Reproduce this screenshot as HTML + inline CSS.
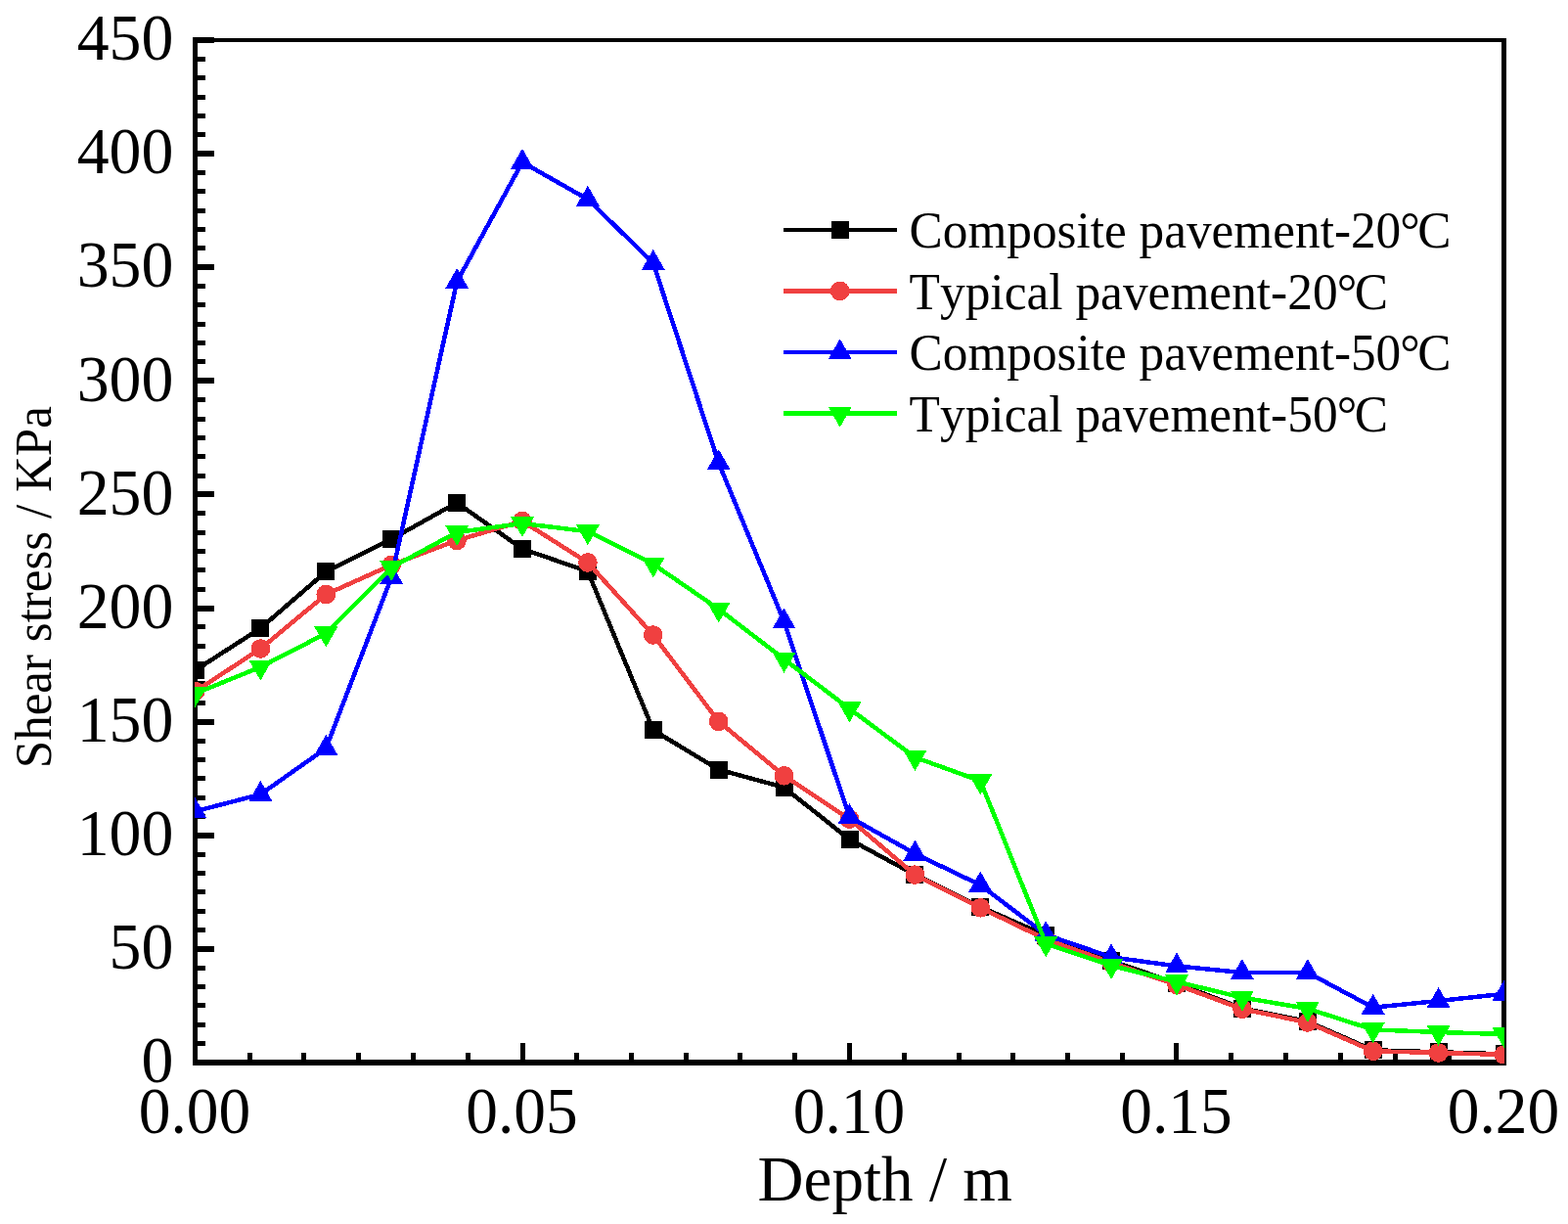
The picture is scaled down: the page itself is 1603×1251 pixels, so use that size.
<!DOCTYPE html>
<html lang="en">
<head>
<meta charset="utf-8">
<title>Shear stress versus depth</title>
<style>
html,body{margin:0;padding:0;background:#ffffff;}
body{width:1603px;height:1251px;overflow:hidden;}
svg{display:block;}
text{font-family:"Liberation Serif",serif;fill:#000000;font-kerning:none;}
.tick{font-size:68px;}
.leg{font-size:52.5px;}
.ytitle{font-size:52.5px;}
.xtitle{font-size:66px;}
</style>
</head>
<body>
<svg width="1603" height="1251" viewBox="0 0 1603 1251">
<rect x="0" y="0" width="1603" height="1251" fill="#ffffff"/>
<defs><clipPath id="plotclip"><rect x="199" y="39" width="1339" height="1048"/></clipPath></defs>
<g shape-rendering="crispEdges" fill="#000000">
<rect x="197" y="38" width="5" height="1051"/>
<rect x="1535" y="39" width="5" height="1050"/>
<rect x="197" y="39" width="1343" height="4"/>
<rect x="197" y="1083" width="1343" height="6"/>
<rect x="197" y="1083" width="22" height="6"/>
<rect x="197" y="1064" width="13" height="5"/>
<rect x="197" y="1045" width="13" height="5"/>
<rect x="197" y="1025" width="13" height="5"/>
<rect x="197" y="1006" width="13" height="5"/>
<rect x="197" y="987" width="13" height="5"/>
<rect x="197" y="967" width="22" height="6"/>
<rect x="197" y="948" width="13" height="5"/>
<rect x="197" y="929" width="13" height="5"/>
<rect x="197" y="909" width="13" height="5"/>
<rect x="197" y="890" width="13" height="5"/>
<rect x="197" y="871" width="13" height="5"/>
<rect x="197" y="851" width="22" height="6"/>
<rect x="197" y="832" width="13" height="5"/>
<rect x="197" y="813" width="13" height="5"/>
<rect x="197" y="793" width="13" height="5"/>
<rect x="197" y="774" width="13" height="5"/>
<rect x="197" y="755" width="13" height="5"/>
<rect x="197" y="735" width="22" height="6"/>
<rect x="197" y="716" width="13" height="5"/>
<rect x="197" y="696" width="13" height="5"/>
<rect x="197" y="677" width="13" height="5"/>
<rect x="197" y="658" width="13" height="5"/>
<rect x="197" y="638" width="13" height="5"/>
<rect x="197" y="619" width="22" height="6"/>
<rect x="197" y="600" width="13" height="5"/>
<rect x="197" y="580" width="13" height="5"/>
<rect x="197" y="561" width="13" height="5"/>
<rect x="197" y="542" width="13" height="5"/>
<rect x="197" y="522" width="13" height="5"/>
<rect x="197" y="502" width="22" height="6"/>
<rect x="197" y="484" width="13" height="5"/>
<rect x="197" y="464" width="13" height="5"/>
<rect x="197" y="445" width="13" height="5"/>
<rect x="197" y="426" width="13" height="5"/>
<rect x="197" y="406" width="13" height="5"/>
<rect x="197" y="386" width="22" height="6"/>
<rect x="197" y="367" width="13" height="5"/>
<rect x="197" y="348" width="13" height="5"/>
<rect x="197" y="329" width="13" height="5"/>
<rect x="197" y="309" width="13" height="5"/>
<rect x="197" y="290" width="13" height="5"/>
<rect x="197" y="270" width="22" height="6"/>
<rect x="197" y="251" width="13" height="5"/>
<rect x="197" y="232" width="13" height="5"/>
<rect x="197" y="213" width="13" height="5"/>
<rect x="197" y="193" width="13" height="5"/>
<rect x="197" y="174" width="13" height="5"/>
<rect x="197" y="154" width="22" height="6"/>
<rect x="197" y="135" width="13" height="5"/>
<rect x="197" y="116" width="13" height="5"/>
<rect x="197" y="97" width="13" height="5"/>
<rect x="197" y="77" width="13" height="5"/>
<rect x="197" y="58" width="13" height="5"/>
<rect x="197" y="38" width="22" height="6"/>
<rect x="197" y="1066" width="5" height="20"/>
<rect x="253" y="1076" width="5" height="10"/>
<rect x="308" y="1076" width="5" height="10"/>
<rect x="364" y="1076" width="5" height="10"/>
<rect x="420" y="1076" width="5" height="10"/>
<rect x="476" y="1076" width="5" height="10"/>
<rect x="532" y="1066" width="5" height="20"/>
<rect x="587" y="1076" width="5" height="10"/>
<rect x="643" y="1076" width="5" height="10"/>
<rect x="699" y="1076" width="5" height="10"/>
<rect x="754" y="1076" width="5" height="10"/>
<rect x="810" y="1076" width="5" height="10"/>
<rect x="866" y="1066" width="5" height="20"/>
<rect x="922" y="1076" width="5" height="10"/>
<rect x="978" y="1076" width="5" height="10"/>
<rect x="1033" y="1076" width="5" height="10"/>
<rect x="1089" y="1076" width="5" height="10"/>
<rect x="1145" y="1076" width="5" height="10"/>
<rect x="1200" y="1066" width="5" height="20"/>
<rect x="1256" y="1076" width="5" height="10"/>
<rect x="1312" y="1076" width="5" height="10"/>
<rect x="1368" y="1076" width="5" height="10"/>
<rect x="1424" y="1076" width="5" height="10"/>
<rect x="1479" y="1076" width="5" height="10"/>
<rect x="1535" y="1066" width="5" height="20"/>
</g>
<g clip-path="url(#plotclip)" shape-rendering="crispEdges">
<polyline points="199.5,685.2 266.4,642 333.3,584.3 400.2,551 467.1,513.8 534,561 600.9,584 667.8,746.2 734.7,786.6 801.6,804.8 868.5,858 935.4,894 1002.3,927 1069.2,956 1136.1,982 1203,1005 1269.9,1030.5 1336.8,1044 1403.7,1073.3 1470.6,1075.3 1537.5,1077.3" fill="none" stroke="#000000" stroke-width="4.5" stroke-linejoin="round"/>
<rect x="190.5" y="676.2" width="18" height="18" fill="#000000"/>
<rect x="257.4" y="633" width="18" height="18" fill="#000000"/>
<rect x="324.3" y="575.3" width="18" height="18" fill="#000000"/>
<rect x="391.2" y="542" width="18" height="18" fill="#000000"/>
<rect x="458.1" y="504.8" width="18" height="18" fill="#000000"/>
<rect x="525" y="552" width="18" height="18" fill="#000000"/>
<rect x="591.9" y="575" width="18" height="18" fill="#000000"/>
<rect x="658.8" y="737.2" width="18" height="18" fill="#000000"/>
<rect x="725.7" y="777.6" width="18" height="18" fill="#000000"/>
<rect x="792.6" y="795.8" width="18" height="18" fill="#000000"/>
<rect x="859.5" y="849" width="18" height="18" fill="#000000"/>
<rect x="926.4" y="885" width="18" height="18" fill="#000000"/>
<rect x="993.3" y="918" width="18" height="18" fill="#000000"/>
<rect x="1060.2" y="947" width="18" height="18" fill="#000000"/>
<rect x="1127.1" y="973" width="18" height="18" fill="#000000"/>
<rect x="1194" y="996" width="18" height="18" fill="#000000"/>
<rect x="1260.9" y="1021.5" width="18" height="18" fill="#000000"/>
<rect x="1327.8" y="1035" width="18" height="18" fill="#000000"/>
<rect x="1394.7" y="1064.3" width="18" height="18" fill="#000000"/>
<rect x="1461.6" y="1066.3" width="18" height="18" fill="#000000"/>
<rect x="1528.5" y="1068.3" width="18" height="18" fill="#000000"/>
<polyline points="199.5,706.7 266.4,663 333.3,607.5 400.2,577.4 467.1,552.4 534,532.6 600.9,575 667.8,649 734.7,737.4 801.6,792.8 868.5,837.2 935.4,894.1 1002.3,927.8 1069.2,960 1136.1,984 1203,1006.5 1269.9,1031.3 1336.8,1045 1403.7,1074.3 1470.6,1076 1537.5,1078" fill="none" stroke="#F04040" stroke-width="4.5" stroke-linejoin="round"/>
<circle cx="199.5" cy="706.7" r="9.8" fill="#F04040"/>
<circle cx="266.4" cy="663" r="9.8" fill="#F04040"/>
<circle cx="333.3" cy="607.5" r="9.8" fill="#F04040"/>
<circle cx="400.2" cy="577.4" r="9.8" fill="#F04040"/>
<circle cx="467.1" cy="552.4" r="9.8" fill="#F04040"/>
<circle cx="534" cy="532.6" r="9.8" fill="#F04040"/>
<circle cx="600.9" cy="575" r="9.8" fill="#F04040"/>
<circle cx="667.8" cy="649" r="9.8" fill="#F04040"/>
<circle cx="734.7" cy="737.4" r="9.8" fill="#F04040"/>
<circle cx="801.6" cy="792.8" r="9.8" fill="#F04040"/>
<circle cx="868.5" cy="837.2" r="9.8" fill="#F04040"/>
<circle cx="935.4" cy="894.1" r="9.8" fill="#F04040"/>
<circle cx="1002.3" cy="927.8" r="9.8" fill="#F04040"/>
<circle cx="1069.2" cy="960" r="9.8" fill="#F04040"/>
<circle cx="1136.1" cy="984" r="9.8" fill="#F04040"/>
<circle cx="1203" cy="1006.5" r="9.8" fill="#F04040"/>
<circle cx="1269.9" cy="1031.3" r="9.8" fill="#F04040"/>
<circle cx="1336.8" cy="1045" r="9.8" fill="#F04040"/>
<circle cx="1403.7" cy="1074.3" r="9.8" fill="#F04040"/>
<circle cx="1470.6" cy="1076" r="9.8" fill="#F04040"/>
<circle cx="1537.5" cy="1078" r="9.8" fill="#F04040"/>
<polyline points="199.5,829.3 266.4,811.8 333.3,764.8 400.2,590 467.1,288 534,165.8 600.9,203.7 667.8,268.8 734.7,473.2 801.6,635.4 868.5,835.1 935.4,872.5 1002.3,904.6 1069.2,955.3 1136.1,978.3 1203,987.4 1269.9,994 1336.8,994 1403.7,1029.7 1470.6,1023 1537.5,1015.8" fill="none" stroke="#0000FF" stroke-width="4.5" stroke-linejoin="round"/>
<polygon points="199.5,815.3 187.5,836.3 211.5,836.3" fill="#0000FF"/>
<polygon points="266.4,797.8 254.4,818.8 278.4,818.8" fill="#0000FF"/>
<polygon points="333.3,750.8 321.3,771.8 345.3,771.8" fill="#0000FF"/>
<polygon points="400.2,576 388.2,597 412.2,597" fill="#0000FF"/>
<polygon points="467.1,274 455.1,295 479.1,295" fill="#0000FF"/>
<polygon points="534,151.8 522,172.8 546,172.8" fill="#0000FF"/>
<polygon points="600.9,189.7 588.9,210.7 612.9,210.7" fill="#0000FF"/>
<polygon points="667.8,254.8 655.8,275.8 679.8,275.8" fill="#0000FF"/>
<polygon points="734.7,459.2 722.7,480.2 746.7,480.2" fill="#0000FF"/>
<polygon points="801.6,621.4 789.6,642.4 813.6,642.4" fill="#0000FF"/>
<polygon points="868.5,821.1 856.5,842.1 880.5,842.1" fill="#0000FF"/>
<polygon points="935.4,858.5 923.4,879.5 947.4,879.5" fill="#0000FF"/>
<polygon points="1002.3,890.6 990.3,911.6 1014.3,911.6" fill="#0000FF"/>
<polygon points="1069.2,941.3 1057.2,962.3 1081.2,962.3" fill="#0000FF"/>
<polygon points="1136.1,964.3 1124.1,985.3 1148.1,985.3" fill="#0000FF"/>
<polygon points="1203,973.4 1191,994.4 1215,994.4" fill="#0000FF"/>
<polygon points="1269.9,980 1257.9,1001 1281.9,1001" fill="#0000FF"/>
<polygon points="1336.8,980 1324.8,1001 1348.8,1001" fill="#0000FF"/>
<polygon points="1403.7,1015.7 1391.7,1036.7 1415.7,1036.7" fill="#0000FF"/>
<polygon points="1470.6,1009 1458.6,1030 1482.6,1030" fill="#0000FF"/>
<polygon points="1537.5,1001.8 1525.5,1022.8 1549.5,1022.8" fill="#0000FF"/>
<polyline points="199.5,708.9 266.4,681.7 333.3,647.4 400.2,580 467.1,544 534,535 600.9,543.2 667.8,576.5 734.7,622.5 801.6,673.7 868.5,724.4 935.4,774 1002.3,798.2 1069.2,964.4 1136.1,987 1203,1003.4 1269.9,1019.6 1336.8,1030.8 1403.7,1052.4 1470.6,1055 1537.5,1057" fill="none" stroke="#00FF00" stroke-width="4.5" stroke-linejoin="round"/>
<polygon points="199.5,722.9 187.5,701.9 211.5,701.9" fill="#00FF00"/>
<polygon points="266.4,695.7 254.4,674.7 278.4,674.7" fill="#00FF00"/>
<polygon points="333.3,661.4 321.3,640.4 345.3,640.4" fill="#00FF00"/>
<polygon points="400.2,594 388.2,573 412.2,573" fill="#00FF00"/>
<polygon points="467.1,558 455.1,537 479.1,537" fill="#00FF00"/>
<polygon points="534,549 522,528 546,528" fill="#00FF00"/>
<polygon points="600.9,557.2 588.9,536.2 612.9,536.2" fill="#00FF00"/>
<polygon points="667.8,590.5 655.8,569.5 679.8,569.5" fill="#00FF00"/>
<polygon points="734.7,636.5 722.7,615.5 746.7,615.5" fill="#00FF00"/>
<polygon points="801.6,687.7 789.6,666.7 813.6,666.7" fill="#00FF00"/>
<polygon points="868.5,738.4 856.5,717.4 880.5,717.4" fill="#00FF00"/>
<polygon points="935.4,788 923.4,767 947.4,767" fill="#00FF00"/>
<polygon points="1002.3,812.2 990.3,791.2 1014.3,791.2" fill="#00FF00"/>
<polygon points="1069.2,978.4 1057.2,957.4 1081.2,957.4" fill="#00FF00"/>
<polygon points="1136.1,1001 1124.1,980 1148.1,980" fill="#00FF00"/>
<polygon points="1203,1017.4 1191,996.4 1215,996.4" fill="#00FF00"/>
<polygon points="1269.9,1033.6 1257.9,1012.6 1281.9,1012.6" fill="#00FF00"/>
<polygon points="1336.8,1044.8 1324.8,1023.8 1348.8,1023.8" fill="#00FF00"/>
<polygon points="1403.7,1066.4 1391.7,1045.4 1415.7,1045.4" fill="#00FF00"/>
<polygon points="1470.6,1069 1458.6,1048 1482.6,1048" fill="#00FF00"/>
<polygon points="1537.5,1071 1525.5,1050 1549.5,1050" fill="#00FF00"/>
</g>
<text class="tick" transform="translate(177.3,1106.2) scale(0.967,1)" text-anchor="end">0</text>
<text class="tick" transform="translate(177.3,990.09) scale(0.967,1)" text-anchor="end">50</text>
<text class="tick" transform="translate(177.3,873.98) scale(0.967,1)" text-anchor="end">100</text>
<text class="tick" transform="translate(177.3,757.87) scale(0.967,1)" text-anchor="end">150</text>
<text class="tick" transform="translate(177.3,641.76) scale(0.967,1)" text-anchor="end">200</text>
<text class="tick" transform="translate(177.3,525.64) scale(0.967,1)" text-anchor="end">250</text>
<text class="tick" transform="translate(177.3,409.53) scale(0.967,1)" text-anchor="end">300</text>
<text class="tick" transform="translate(177.3,293.42) scale(0.967,1)" text-anchor="end">350</text>
<text class="tick" transform="translate(177.3,177.31) scale(0.967,1)" text-anchor="end">400</text>
<text class="tick" transform="translate(177.3,61.2) scale(0.967,1)" text-anchor="end">450</text>
<text class="tick" transform="translate(199,1158.4) scale(0.962,1)" text-anchor="middle">0.00</text>
<text class="tick" transform="translate(533.5,1158.4) scale(0.962,1)" text-anchor="middle">0.05</text>
<text class="tick" transform="translate(868,1158.4) scale(0.962,1)" text-anchor="middle">0.10</text>
<text class="tick" transform="translate(1202.5,1158.4) scale(0.962,1)" text-anchor="middle">0.15</text>
<text class="tick" transform="translate(1537,1158.4) scale(0.962,1)" text-anchor="middle">0.20</text>
<text class="xtitle" x="774.5" y="1226.7" textLength="260.4" lengthAdjust="spacingAndGlyphs">Depth / m</text>
<text class="ytitle" transform="translate(52,600.2) rotate(-90)" text-anchor="middle" textLength="370" lengthAdjust="spacingAndGlyphs">Shear stress / KPa</text>
<g shape-rendering="crispEdges">
<rect x="801" y="233" width="116" height="4" fill="#000000"/>
<rect x="849.7" y="225.9" width="18" height="18" fill="#000000"/>
<rect x="801" y="295" width="116" height="5" fill="#F04040"/>
<circle cx="858.7" cy="297.4" r="9.8" fill="#F04040"/>
<rect x="801" y="358" width="116" height="4" fill="#0000FF"/>
<polygon points="858.7,346.2 846.7,367.2 870.7,367.2" fill="#0000FF"/>
<rect x="801" y="420" width="116" height="5" fill="#00FF00"/>
<polygon points="858.7,436.8 846.7,415.8 870.7,415.8" fill="#00FF00"/>
</g>
<text class="leg" transform="translate(929.6,252.6) scale(0.977,1)" x="0" y="0">Composite pavement-20<tspan dx="-1">°</tspan><tspan dx="-2.5">C</tspan></text>
<text class="leg" transform="translate(929.6,315.5) scale(0.979,1)" x="0" y="0">Typical pavement-20<tspan dx="-1">°</tspan><tspan dx="-2.5">C</tspan></text>
<text class="leg" transform="translate(929.6,377.7) scale(0.977,1)" x="0" y="0">Composite pavement-50<tspan dx="-1">°</tspan><tspan dx="-2.5">C</tspan></text>
<text class="leg" transform="translate(929.6,440.5) scale(0.979,1)" x="0" y="0">Typical pavement-50<tspan dx="-1">°</tspan><tspan dx="-2.5">C</tspan></text>
</svg>
</body>
</html>
